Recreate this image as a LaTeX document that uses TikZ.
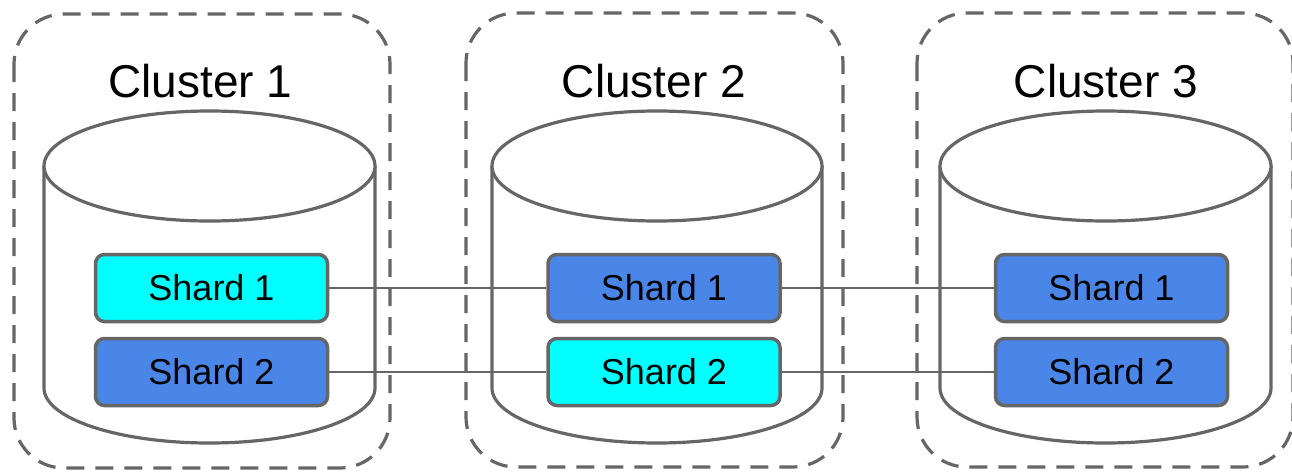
\documentclass[tikz,border=0pt]{standalone}
\usepackage{fontspec}
\setmainfont{Liberation Sans}
\definecolor{edge}{HTML}{666666}
\definecolor{shardcyan}{HTML}{00FFFF}
\definecolor{shardblue}{HTML}{4A86E8}
\begin{document}
\begin{tikzpicture}[x=1pt,y=-1pt,
  clusterbox/.style={draw=edge, line width=3.2pt, dash pattern=on 18pt off 11pt, rounded corners=50pt},
  cyl/.style={draw=edge, line width=3.2pt, fill=white},
  shard/.style={draw=edge, line width=3.5pt, rounded corners=9pt, minimum width=232pt, minimum height=67pt, inner sep=0pt, font=\fontsize{36}{40}\selectfont, text=black},
  primary/.style={shard, fill=shardcyan},
  replica/.style={shard, fill=shardblue},
  title/.style={font=\fontsize{46}{50}\selectfont, anchor=base, inner sep=0pt},
  link/.style={draw=edge, line width=2.8pt}]
\useasboundingbox[fill=white] (0,0) rectangle (1292,471);
% dashed cluster boxes
\draw[clusterbox] (14,14) rectangle (390,468);
\draw[clusterbox] (466,13) rectangle (843,467);
\draw[clusterbox] (917,13) rectangle (1293,467);
% titles
\node[title] (t1) at (200.5,97) {Cluster 1};
\node[title] (t2) at (654,97) {Cluster 2};
\node[title] (t3) at (1106,97) {Cluster 3};
% cylinders
\foreach \cx/\rx in {209.5/165.5, 657/165, 1105.5/165.5}{
  \draw[cyl] (\cx-\rx,166) -- (\cx-\rx,388) arc[start angle=180, end angle=0, x radius=\rx, y radius=55] -- (\cx+\rx,166);
  \draw[cyl] (\cx,166) ellipse[x radius=\rx, y radius=55];
}
% shards
\node[primary] (a1) at (211.5,288) {Shard 1};
\node[replica] (a2) at (211.5,372) {Shard 2};
\node[replica] (b1) at (664,288) {Shard 1};
\node[primary] (b2) at (664,372) {Shard 2};
\node[replica] (c1) at (1111.5,288) {Shard 1};
\node[replica] (c2) at (1111.5,372) {Shard 2};
% links
\draw[link] (a1.east) -- (b1.west);
\draw[link] (a2.east) -- (b2.west);
\draw[link] (b1.east) -- (c1.west);
\draw[link] (b2.east) -- (c2.west);
\end{tikzpicture}
\end{document}
